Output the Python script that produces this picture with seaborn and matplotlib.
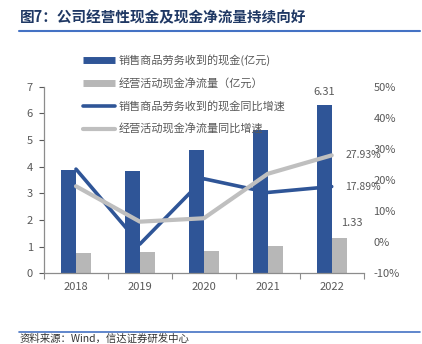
import matplotlib
matplotlib.use("Agg")
import matplotlib.pyplot as plt
import seaborn as sns
import pandas as pd
import numpy as np
from matplotlib.lines import Line2D

# ---- data ----
years = ["2018", "2019", "2020", "2021", "2022"]
sales_cash = [3.87, 3.84, 4.62, 5.37, 6.31]      # 销售商品劳务收到的现金（亿元）
net_cash = [0.75, 0.81, 0.85, 1.03, 1.33]        # 经营活动现金净流量（亿元）
sales_yoy = [23.5, -0.6, 20.4, 16.0, 17.89]      # 同比增速 (%)
net_yoy = [18.0, 6.6, 7.7, 22.0, 27.93]          # 同比增速 (%)

series_names = [
    "销售商品劳务收到的现金(亿元)",
    "经营活动现金净流量（亿元）",
    "销售商品劳务收到的现金同比增速",
    "经营活动现金净流量同比增速",
]
left_ticks = [0, 1, 2, 3, 4, 5, 6, 7]
right_ticks = [-10, 0, 10, 20, 30, 40, 50]

title = "图7：公司经营性现金及现金净流量持续向好"
source = "资料来源：Wind，信达证券研发中心"

BLUE = "#2F5597"
GRAY_BAR = "#B7B7B7"
GRAY_LINE = "#BFBFBF"
TXT = "#595959"

sns.set_theme(style="white")
plt.rcParams["font.family"] = ["Noto Sans CJK SC", "DejaVu Sans"]

fig = plt.figure(figsize=(4.22, 3.44), dpi=100)
ax = fig.add_axes([0.1043, 0.2055, 0.7575, 0.5425])

bars = pd.DataFrame({
    "year": years * 2,
    "value": sales_cash + net_cash,
    "series": [series_names[0]] * len(years) + [series_names[1]] * len(years),
})
sns.barplot(data=bars, x="year", y="value", hue="series",
            palette=[BLUE, GRAY_BAR], width=0.47, gap=0, ax=ax,
            legend=False, saturation=1, order=years, linewidth=0)

ax.set_xlim(-0.5, len(years) - 0.5)
ax.set_ylim(0, 7)
ax.set_yticks(left_ticks)
ax.set_xlabel("")
ax.set_ylabel("")
ax.tick_params(axis="y", colors=TXT, labelsize=8, length=3.5, width=0.8, left=True, pad=4.5)
ax.tick_params(axis="x", colors=TXT, labelsize=8, length=0, pad=6)
ax.set_xticks(np.arange(-0.5, len(years), 1.0), minor=True)
ax.tick_params(axis="x", which="minor", bottom=True, length=4, width=0.8, color="#8C8C8C")
for s in ["top", "right"]:
    ax.spines[s].set_visible(False)
for s in ["left", "bottom"]:
    ax.spines[s].set_color("#8C8C8C")
    ax.spines[s].set_linewidth(0.9)

# value labels for the 2022 bars
xpos = np.arange(len(years))
ax.text(xpos[-1] - 0.12, sales_cash[-1] + 0.32, f"{sales_cash[-1]:.2f}",
        ha="center", va="bottom", fontsize=8, color=TXT)
ax.text(xpos[-1] + 0.31, net_cash[-1] + 0.38, f"{net_cash[-1]:.2f}",
        ha="center", va="bottom", fontsize=8, color=TXT)

# growth-rate lines on the secondary axis
ax2 = ax.twinx()
ax2.set_position(ax.get_position())
lines = pd.DataFrame({"x": xpos, "sales": sales_yoy, "net": net_yoy})
sns.lineplot(data=lines, x="x", y="sales", color=BLUE, linewidth=2.6, ax=ax2)
sns.lineplot(data=lines, x="x", y="net", color=GRAY_LINE, linewidth=3.0, ax=ax2)
ax2.set_ylim(-10, 50)
ax2.set_yticks(right_ticks)
ax2.set_yticklabels([f"{t}%" for t in right_ticks])
ax2.set_xlabel("")
ax2.set_ylabel("")
ax2.tick_params(axis="y", colors=TXT, labelsize=8, length=0, pad=7)
for s in ax2.spines.values():
    s.set_visible(False)
ax.set_xlim(-0.5, len(years) - 0.5)

ax2.text(xpos[-1] + 0.21, net_yoy[-1], f"{net_yoy[-1]:.2f}%",
         ha="left", va="center", fontsize=7.5, color=TXT)
ax2.text(xpos[-1] + 0.21, sales_yoy[-1], f"{sales_yoy[-1]:.2f}%",
         ha="left", va="center", fontsize=7.5, color=TXT)

# legend
handles = [
    Line2D([], [], color=BLUE, linewidth=5, solid_capstyle="butt"),
    Line2D([], [], color=GRAY_BAR, linewidth=5, solid_capstyle="butt"),
    Line2D([], [], color=BLUE, linewidth=2.6),
    Line2D([], [], color=GRAY_LINE, linewidth=3.0),
]
fig.legend(handles, series_names, loc="upper left",
           bbox_to_anchor=(0.184, 0.857), frameon=False, fontsize=8,
           labelcolor=TXT, handlelength=2.9, handletextpad=0.3,
           labelspacing=1.05, borderpad=0)

# title, rules and source
fig.text(0.047, 0.950, title, fontsize=10.5, fontweight="bold", color="#1F3864",
         ha="left", va="center")
fig.add_artist(Line2D([0.045, 0.995], [0.910, 0.910], color="#4472C4", linewidth=1.5))
fig.add_artist(Line2D([0.045, 0.995], [0.036, 0.036], color="#4472C4", linewidth=1.2))
fig.text(0.047, 0.015, source, fontsize=7.5, color="#333333", ha="left", va="center")

fig.savefig("out.png", dpi=100)
